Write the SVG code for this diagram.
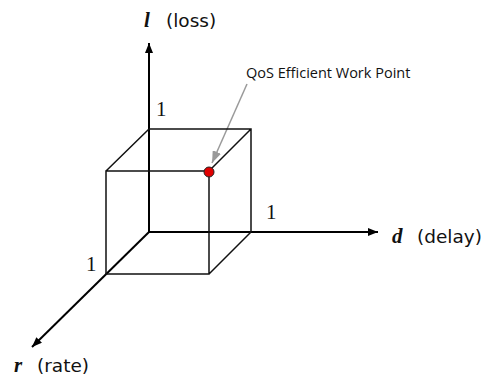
<svg xmlns="http://www.w3.org/2000/svg" width="487" height="379" viewBox="0 0 487 379">
<style>
.cube{stroke:#111;stroke-width:1.5;fill:none}
.axis{stroke:#000;stroke-width:2;fill:none}
.num{font-family:"Liberation Serif",serif;font-size:21px;fill:#111}
.var{font-family:"Liberation Serif",serif;font-size:21px;font-style:italic;font-weight:bold;fill:#111}
.lab{font-family:"DejaVu Sans","Liberation Sans",sans-serif;font-size:18.5px;fill:#111}
.note{font-family:"Open Sans","Liberation Sans",sans-serif;font-size:14.5px;fill:#111}
</style>
<defs>
<marker id="ah" markerWidth="10" markerHeight="8" refX="10" refY="4" orient="auto" markerUnits="userSpaceOnUse">
<path d="M0,0 L10,4 L0,8 Z" fill="#000"/>
</marker>
<marker id="gh" markerWidth="12" markerHeight="9" refX="12" refY="4.5" orient="auto" markerUnits="userSpaceOnUse">
<path d="M0,0 L12,4.5 L0,9 Z" fill="#9a9a9a"/>
</marker>
</defs>
<g id="connectors">
<line class="axis" x1="149" y1="232" x2="149" y2="43" marker-end="url(#ah)"/>
<line class="axis" x1="149" y1="232" x2="378" y2="232" marker-end="url(#ah)"/>
<line class="axis" x1="149" y1="232" x2="32" y2="347" marker-end="url(#ah)"/>
<line x1="247" y1="84" x2="212" y2="163" stroke="#9a9a9a" stroke-width="1.5" marker-end="url(#gh)"/>
</g>
<g id="cube">
<path class="cube" d="M149,129 H251 V232 M106,171 H209 V274 H106 Z M149,129 L106,171 M251,129 L209,171 M251,232 L209,274"/>
</g>
<g id="point">
<circle cx="209" cy="172" r="5" fill="#e00000" stroke="#222" stroke-width="1"/>
</g>
<g id="labels">
<text class="num" x="156" y="116">1</text>
<text class="num" x="266" y="219">1</text>
<text class="num" x="86" y="271">1</text>
<text class="var" x="144" y="27">l</text>
<text class="lab" x="166" y="27">(loss)</text>
<text class="var" x="392" y="243">d</text>
<text class="lab" x="417" y="243">(delay)</text>
<text class="var" x="14" y="372">r</text>
<text class="lab" x="37" y="372">(rate)</text>
<text class="note" x="246" y="78">QoS Efficient Work Point</text>
</g>
</svg>
